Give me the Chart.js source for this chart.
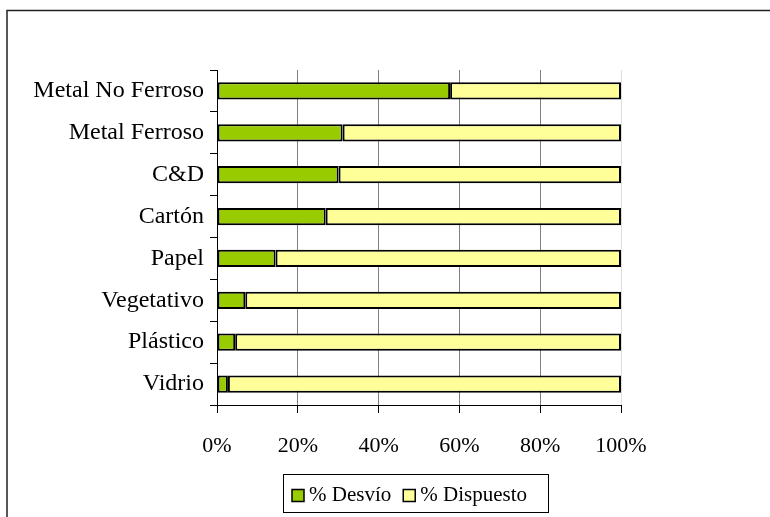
<!DOCTYPE html>
<html>
<head>
<meta charset="utf-8">
<script src="https://cdn.jsdelivr.net/npm/chart.js@4"></script>
<style>
  html, body { margin: 0; padding: 0; background: #fff; }
  #wrap { width: 770px; height: 517px; }
</style>
</head>
<body>
<div id="wrap"><canvas id="chart" width="770" height="517"></canvas></div>
<script>
const categories = ['Metal No Ferroso', 'Metal Ferroso', 'C&D', 'Cartón', 'Papel', 'Vegetativo', 'Plástico', 'Vidrio'];
const desvio = [57.7, 31.1, 30.1, 26.9, 14.5, 7.0, 4.5, 2.7];
const dispuesto = [42.3, 68.9, 69.9, 73.1, 85.5, 93.0, 95.5, 97.3];
const xTickStep = 20;
const seriesNames = ['% Desvío', '% Dispuesto'];
const seriesColors = ['#99CC00', '#FFFF99'];

const serifFamily = '"Liberation Serif", "Times New Roman", serif';

// outer frame (cut off at right and bottom, like the original)
const framePlugin = {
  id: 'frame',
  afterDraw(chart) {
    const ctx = chart.ctx;
    ctx.save();
    ctx.strokeStyle = '#222';
    ctx.lineWidth = 1.5;
    ctx.beginPath();
    ctx.moveTo(7, 517);
    ctx.lineTo(7, 10.5);
    ctx.lineTo(770, 10.5);
    ctx.stroke();
    ctx.restore();
  }
};

// boxed legend under the axis, drawn from the datasets
const boxedLegend = {
  id: 'boxedLegend',
  afterDraw(chart) {
    const ctx = chart.ctx;
    const left = 283, top = 474, w = 265, h = 38;
    const cy = top + 21.5;
    ctx.save();
    ctx.fillStyle = '#fff';
    ctx.fillRect(left, top, w, h);
    ctx.strokeStyle = '#000';
    ctx.lineWidth = 1;
    ctx.strokeRect(left + 0.5, top + 0.5, w, h);
    ctx.font = '21px ' + serifFamily;
    ctx.textBaseline = 'middle';
    let x = left + 9;
    chart.data.datasets.forEach(ds => {
      ctx.fillStyle = ds.backgroundColor;
      ctx.fillRect(x, cy - 6, 12, 12);
      ctx.lineWidth = 1.5;
      ctx.strokeStyle = '#000';
      ctx.strokeRect(x, cy - 6, 12, 12);
      ctx.fillStyle = '#000';
      ctx.fillText(ds.label, x + 17, cy);
      x += 17 + ctx.measureText(ds.label).width + 12;
    });
    ctx.restore();
  }
};

new Chart(document.getElementById('chart'), {
  type: 'bar',
  data: {
    labels: categories,
    datasets: [
      {
        label: seriesNames[0],
        data: desvio,
        backgroundColor: seriesColors[0],
        borderColor: '#000',
        borderWidth: 2,
        borderSkipped: false
      },
      {
        label: seriesNames[1],
        data: dispuesto,
        backgroundColor: seriesColors[1],
        borderColor: '#000',
        borderWidth: 2,
        borderSkipped: false
      }
    ]
  },
  options: {
    indexAxis: 'y',
    responsive: false,
    animation: false,
    barPercentage: 0.41,
    categoryPercentage: 1,
    layout: { padding: { top: 70, right: 149, left: 0, bottom: 0 } },
    scales: {
      x: {
        stacked: true,
        min: 0,
        max: 100,
        ticks: {
          stepSize: xTickStep,
          callback: v => v + '%',
          color: '#000',
          font: { family: serifFamily, size: 22, lineHeight: 1 },
          padding: 22
        },
        grid: {
          color: c => (c.tick && c.tick.value === 100) ? '#dddddd' : '#808080',
          tickColor: '#000',
          tickLength: 8,
          lineWidth: 1
        },
        border: { color: '#000', width: 1 },
        afterFit: s => { s.height = 112; }
      },
      y: {
        stacked: true,
        ticks: { color: '#000', font: { family: serifFamily, size: 24, lineHeight: 1 }, padding: 6 },
        grid: { drawOnChartArea: false, color: '#000', tickLength: 7 },
        border: { color: '#000', width: 1 },
        afterFit: s => { s.width = 217; }
      }
    },
    plugins: {
      legend: { display: false },
      tooltip: { enabled: false }
    }
  },
  plugins: [framePlugin, boxedLegend]
});
</script>
</body>
</html>
